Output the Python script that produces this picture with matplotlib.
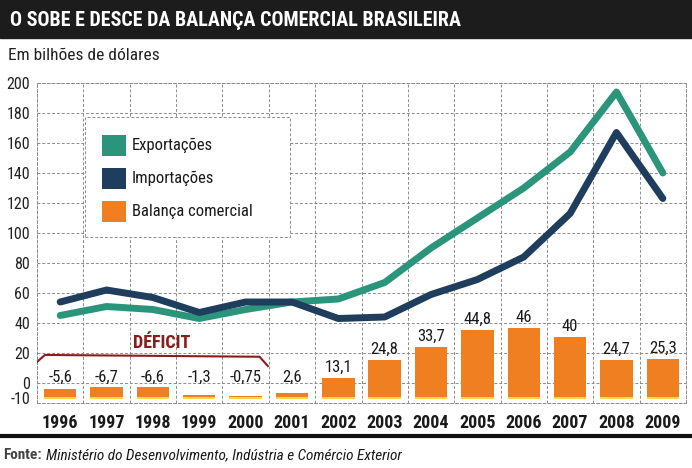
import numpy as np
import matplotlib.pyplot as plt
from matplotlib import font_manager as fm
from matplotlib.patches import Rectangle

# fonte condensada: usa a primeira disponivel
fontes = [(f.name, f.stretch) for f in fm.fontManager.ttflist]
nomes = {n for n, s in fontes}
escolha, esticar, escala = 'DejaVu Sans', 'normal', 0.82
for nome in ['Roboto Condensed', 'Liberation Sans Narrow', 'Open Sans Condensed',
             'Noto Sans Condensed', 'DejaVu Sans Condensed']:
    if nome in nomes:
        escolha, escala = nome, 1.0
        break
else:
    if ('DejaVu Sans', 'condensed') in fontes or ('DejaVu Sans', 'semi-condensed') in fontes:
        esticar, escala = 'condensed', 0.95
    elif 'Roboto' in nomes:
        escolha, escala = 'Roboto', 0.85
plt.rcParams['font.family'] = [escolha, 'DejaVu Sans']
plt.rcParams['font.stretch'] = esticar

anos = ['1996', '1997', '1998', '1999', '2000', '2001', '2002',
        '2003', '2004', '2005', '2006', '2007', '2008', '2009']
exportacoes = [45, 51, 49, 43, 49, 54, 56, 67, 90, 110, 130, 154, 194, 140]
importacoes = [54, 62, 57, 47, 54, 54, 43, 44, 59, 69, 84, 113, 167, 123]
balanca = [-5.6, -6.7, -6.6, -1.3, -0.75, 2.6, 13.1,
           24.8, 33.7, 44.8, 46, 40, 24.7, 25.3]
rotulos = ['-5,6', '-6,7', '-6,6', '-1,3', '-0,75', '2,6', '13,1',
           '24,8', '33,7', '44,8', '46', '40', '24,7', '25,3']
yticks = [200, 180, 160, 140, 120, 100, 80, 60, 40, 20, 0, -10]

verde = '#2b957b'
azul = '#1f3d5c'
laranja = '#f07f22'
amarelo = '#f6d94a'
vinho = '#8a1c1c'
grade = '#8c8c8c'

fig = plt.figure(figsize=(6.92, 4.68), dpi=100)
fig.patch.set_facecolor('white')
H = 468.0
W = 692.0

# faixa do titulo
fig.patches.append(Rectangle((0, 1 - 38 / H), 1, 38 / H, transform=fig.transFigure,
                             color='#1c1c1c', zorder=0))
titulo = fig.text(10 / W, 1 - 20 / H, 'O SOBE E DESCE DA BALANÇA COMERCIAL BRASILEIRA',
                  color='white', fontsize=21, fontweight='bold', va='center', ha='left')
# ajusta o titulo para a largura do original (~450 px)
fig.canvas.draw()
larg = titulo.get_window_extent().width
titulo.set_fontsize(min(21, 21 * 450 / larg))

fig.text(8 / W, 1 - 55 / H, 'Em bilhões de dólares', fontsize=12.5 * escala, va='center',
         ha='left', color='#222222')

ax = fig.add_axes([37 / W, 1 - 402.5 / H, 649 / W, 319.5 / H])
x = np.arange(len(anos))
ax.set_xlim(-0.5, len(anos) - 0.5)
ax.set_ylim(-13, 200)

# grade tracejada
for yv in range(0, 201, 20):
    ax.axhline(yv, color=grade, lw=0.7, ls=(0, (3, 2)), zorder=1)
for xv in np.arange(-0.5, len(anos), 1):
    ax.axvline(xv, color=grade, lw=0.7, ls=(0, (3, 2)), zorder=1)
for s in ax.spines.values():
    s.set_color(grade)
    s.set_linewidth(0.7)
    s.set_linestyle((0, (3, 2)))

# caixa da legenda
ax.add_patch(Rectangle((0.53, 97.3), 4.42, 80, facecolor='white',
                       edgecolor=grade, lw=0.7, ls=(0, (3, 2)), zorder=2))
itens = [(verde, 'Exportações'), (azul, 'Importações'), (laranja, 'Balança comercial')]
for i, (cor, txt) in enumerate(itens):
    yy = 158.5 - i * 22
    ax.add_patch(Rectangle((0.9, yy - 7), 0.52, 14, facecolor=cor, edgecolor='none',
                           zorder=3))
    ax.text(1.55, yy, txt, fontsize=12 * escala, va='center', ha='left', color='#1a1a1a',
            zorder=3)

# barras (desenhadas a partir da base, como no original)
base = -9.5
alturas = np.abs(balanca)
ax.bar(x, alturas, width=0.7, bottom=base, color=laranja, zorder=3)
ax.bar(x, 1.3, width=0.7, bottom=base - 1.3, color=amarelo, zorder=3)

for i, r in enumerate(rotulos):
    if balanca[i] < 5:
        yl = 3.5
    else:
        yl = base + alturas[i] + 7
    ax.text(x[i], yl, r, fontsize=12 * escala, ha='center', va='center', color='#1a1a1a',
            zorder=4)

# linhas
ax.plot(x, exportacoes, color=verde, lw=5, solid_capstyle='round',
        solid_joinstyle='round', zorder=5)
ax.plot(x, importacoes, color=azul, lw=5, solid_capstyle='round',
        solid_joinstyle='round', zorder=5)

# deficit
ax.plot([-0.5, -0.33, 4.3, 4.48], [14, 18.7, 17.5, 11.3], color=vinho, lw=1.5,
        zorder=4, solid_joinstyle='round')
ax.text(2.2, 27, 'DÉFICIT', color=vinho, fontsize=13 * escala, fontweight='bold',
        ha='center', va='center', zorder=4)

ax.set_yticks(yticks)
ax.set_yticklabels([str(v) for v in yticks], fontsize=11.5 * escala, color='#222222')
ax.set_xticks(x)
ax.set_xticklabels(anos, fontsize=13 * escala, color='#1a1a1a', fontweight='bold')
ax.tick_params(length=0)
ax.tick_params(axis='y', pad=5)
ax.tick_params(axis='x', pad=8)
ax.set_facecolor('white')

# linha inferior e fonte
fig.add_artist(plt.Line2D([0, 1], [1 - 436 / H, 1 - 436 / H], color='#111111', lw=3,
                          transform=fig.transFigure))
f1 = fig.text(3 / W, 1 - 455 / H, 'Fonte:', fontsize=11 * escala, fontweight='bold',
              va='center', ha='left', color='#444444')
fig.canvas.draw()
x2 = f1.get_window_extent().x1 + 4
fig.text(x2 / W, 1 - 455 / H,
         'Ministério do Desenvolvimento, Indústria e Comércio Exterior',
         fontsize=11 * escala, style='italic', va='center', ha='left', color='#1a1a1a')

fig.savefig('out.png', dpi=100)
